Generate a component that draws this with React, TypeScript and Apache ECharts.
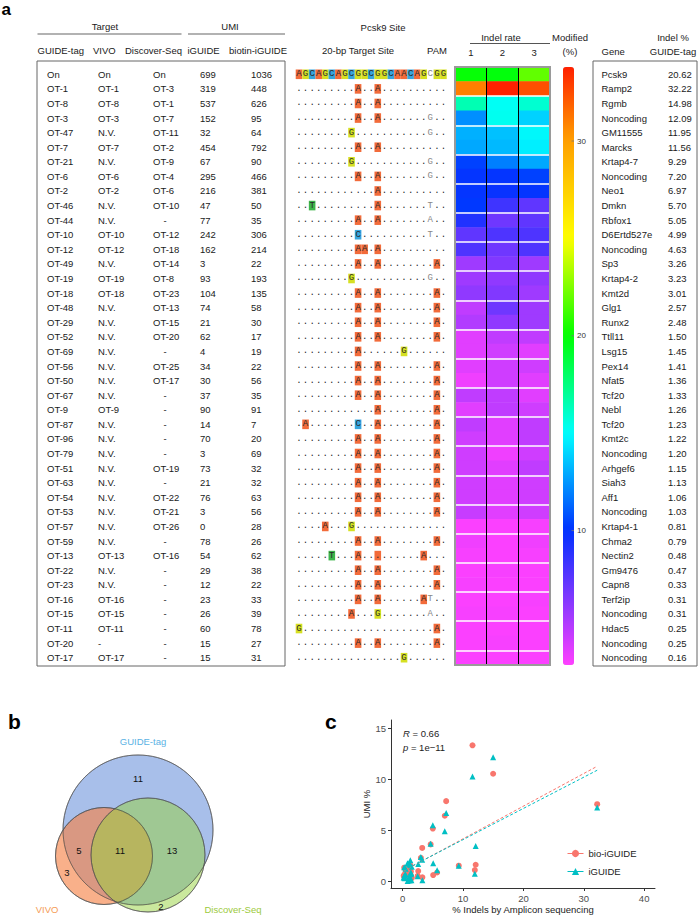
import React, { useEffect, useRef } from 'react';
import * as echarts from 'echarts';

const SANS = '"Liberation Sans", Arial, Helvetica, sans-serif';
const MONO = '"Liberation Mono", "DejaVu Sans Mono", monospace';

// ---------- data ----------
const guideTag = ['On','OT-1','OT-8','OT-3','OT-47','OT-7','OT-21','OT-6','OT-2','OT-46','OT-44','OT-10','OT-12','OT-49','OT-19','OT-18','OT-48','OT-29','OT-52','OT-69','OT-56','OT-50','OT-67','OT-9','OT-87','OT-96','OT-79','OT-51','OT-63','OT-54','OT-53','OT-57','OT-59','OT-13','OT-22','OT-23','OT-16','OT-15','OT-11','OT-20','OT-17'];
const vivo = ['On','OT-1','OT-8','OT-3','N.V.','OT-7','N.V.','OT-6','OT-2','N.V.','N.V.','OT-10','OT-12','N.V.','OT-19','OT-18','N.V.','N.V.','N.V.','N.V.','N.V.','N.V.','N.V.','OT-9','N.V.','N.V.','N.V.','N.V.','N.V.','N.V.','N.V.','N.V.','N.V.','OT-13','N.V.','N.V.','OT-16','OT-15','OT-11','-','OT-17'];
const discoverSeq = ['On','OT-3','OT-1','OT-7','OT-11','OT-2','OT-9','OT-4','OT-6','OT-10','-','OT-12','OT-18','OT-14','OT-8','OT-23','OT-13','OT-15','OT-20','-','OT-25','OT-17','-','-','-','-','-','OT-19','-','OT-22','OT-21','OT-26','-','OT-16','-','-','-','-','-','-','-'];
const iguideUMI = [699,319,537,152,32,454,67,295,216,47,77,242,162,3,93,104,74,21,62,4,34,30,37,90,14,70,3,73,21,76,3,0,78,54,29,12,23,26,60,15,15];
const biotinUMI = [1036,448,626,95,64,792,90,466,381,50,35,306,214,22,193,135,58,30,17,19,22,56,35,91,7,20,69,32,32,63,56,28,26,62,38,22,33,39,78,27,31];
const genes = ['Pcsk9','Ramp2','Rgmb','Noncoding','GM11555','Marcks','Krtap4-7','Noncoding','Neo1','Dmkn','Rbfox1','D6Ertd527e','Noncoding','Sp3','Krtap4-2','Kmt2d','Glg1','Runx2','Ttll11','Lsg15','Pex14','Nfat5','Tcf20','Nebl','Tcf20','Kmt2c','Noncoding','Arhgef6','Siah3','Aff1','Noncoding','Krtap4-1','Chma2','Nectin2','Gm9476','Capn8','Terf2ip','Noncoding','Hdac5','Noncoding','Noncoding'];
const indelGuideTag = [20.62,32.22,14.98,12.09,11.95,11.56,9.29,7.20,6.97,5.70,5.05,4.99,4.63,3.26,3.23,3.01,2.57,2.48,1.50,1.45,1.41,1.36,1.33,1.26,1.23,1.22,1.20,1.15,1.13,1.06,1.03,0.81,0.79,0.48,0.47,0.33,0.31,0.31,0.25,0.25,0.16];
const sequences = [
  'AGCAGCAGCGGCGGCAACAGCGG',
  '.........A..A..........',
  '.........A..A..........',
  '.........A..A.......G..',
  '........G...........G..',
  '.........A..A..........',
  '........G...........G..',
  '.........A..A.......G..',
  '............A..........',
  '..T.........A.......T..',
  '.........A..A.......A..',
  '.........C..........T..',
  '.........AA.A..........',
  '.........A..A........A.',
  '........G...........G..',
  '.........A..A........A.',
  '.........A..A........A.',
  '.........A..A........A.',
  '.........A..A........A.',
  '.........A......G......',
  '.........A..A........A.',
  '.........A..A........A.',
  '.........A..A........A.',
  '............A........A.',
  '.A.......C..A........A.',
  '.........A..A........A.',
  '.........A..A........A.',
  '.........A..A........A.',
  '.........A..A........A.',
  '.........A..A........A.',
  '.........A..A........A.',
  '....A...G..............',
  '.........A..A........A.',
  '.....T...A.._......A...',
  '.........A..A........A.',
  '.........A..A........A.',
  '.........A..A......AT..',
  '........A...G.......A..',
  'G....................A.',
  '.........A..A........A.',
  '................G......',
];
const indelRep1 = [20.0,31.0,16.5,12.3,13.1,12.9,10.4,10.0,10.0,10.2,9.1,7.4,7.9,5.7,5.7,6.1,4.8,5.2,3.9,3.9,3.9,3.5,4.8,3.9,4.8,4.4,4.4,4.4,4.4,4.4,4.6,3.2,3.5,3.3,3.2,3.3,3.2,3.3,3.2,3.2,3.2];
const indelRep2 = [19.8,33.8,15.2,15.3,13.5,13.3,11.9,10.0,9.8,8.3,7.0,7.9,7.0,6.5,6.1,6.5,7.0,6.1,4.8,4.4,4.4,4.4,4.8,4.8,3.9,3.9,3.5,3.9,3.9,3.9,3.9,3.2,3.2,3.2,3.3,3.2,3.2,3.3,3.2,3.3,3.2];
const indelRep3 = [21.9,32.4,15.9,13.9,14.9,14.6,12.9,10.4,10.0,7.4,7.4,7.9,7.9,5.7,6.1,5.7,5.7,5.7,4.8,3.9,4.4,3.9,3.9,4.4,4.8,4.8,4.4,4.8,4.4,4.4,4.4,3.3,3.5,3.3,3.2,3.2,3.3,3.2,3.2,3.2,3.2];
const colorbarTicks = [30, 20, 10];

// scatter (off-targets, same order as table rows 2..41)
const bioUMIpct = [7.54,10.53,1.60,1.08,13.32,1.51,7.84,6.41,0.84,0.59,5.15,3.60,0.37,3.25,2.27,0.98,0.50,0.29,0.32,0.37,0.94,0.59,1.53,0.12,0.34,1.16,0.54,0.54,1.06,0.94,0.47,0.44,1.04,0.64,0.37,0.56,0.66,1.31,0.45,0.52];
const iUMIpct = [7.21,12.14,3.44,0.72,10.26,1.51,6.67,4.88,1.06,1.74,5.47,3.66,0.07,2.10,2.35,1.67,0.47,1.40,0.09,0.77,0.68,0.84,2.03,0.32,1.58,0.07,1.65,0.47,1.72,0.07,0.00,1.76,1.22,0.66,0.27,0.52,0.59,1.36,0.34,0.34];
const fitBio = [[0.16, 1.0], [32.22, 11.26]];
const fitI = [[0.16, 1.05], [32.22, 10.87]];
const xTicks = [0, 10, 20, 30, 40];
const yTicks = [0, 5, 10, 15];

// venn
const vennSets = ['GUIDE-tag', 'VIVO', 'Discover-Seq'];
const vennCounts = ['11', '5', '11', '13', '3', '2'];

// ---------- style helpers ----------
const VMIN = 3.1, VMAX = 33.8;
const HM = { left: 455, top: 67, width: 95, height: 598 };
const N = guideTag.length;
const rowY = (i: number) => HM.top + (HM.height * (i + 0.5)) / N;
const SEQ_X0 = 299, SEQ_STEP = 6.565;
const BOX: Record<string, string> = { A: '#f26b3a', G: '#d6e022', C: '#36a5dd', T: '#3db54a', _: '#f26b3a' };
const RED = '#F8766D', CYAN = '#00BFC4';

const anchors: [number, string][] = [[3.1,'#ff40ff'],[10,'#0030ff'],[15,'#00ffff'],[20,'#00ff00'],[25,'#ffff00'],[30,'#ffa000'],[33.8,'#ff2000']];
function hex(c: string) { return [1,3,5].map(k => parseInt(c.slice(k, k + 2), 16)); }
function colorAt(v: number) {
  for (let k = 0; k < anchors.length - 1; k++) {
    const [a, ca] = anchors[k], [b, cb] = anchors[k + 1];
    if (v <= b + 1e-9) {
      const t = Math.max(0, Math.min(1, (v - a) / (b - a)));
      const A = hex(ca), B = hex(cb);
      const m = A.map((x, j) => Math.round(x + (B[j] - x) * t));
      return 'rgb(' + m.join(',') + ')';
    }
  }
  return anchors[anchors.length - 1][1];
}
const gradientStops = Array.from({ length: 62 }, (_, k) => colorAt(VMIN + ((VMAX - VMIN) * k) / 61));

export default function App() {
  const ref = useRef<HTMLDivElement>(null);
  useEffect(() => {
    const chart = echarts.init(ref.current!, null, { renderer: 'svg' });
    const els: any[] = [];
    const txt = (text: string, x: number, y: number, o: any = {}) => els.push({
      type: 'text', x, y, silent: true, z: o.z ?? 20,
      style: {
        text, fill: o.fill ?? '#1a1a1a', fontSize: o.size ?? 9.5, fontFamily: o.font ?? SANS,
        fontWeight: o.weight ?? 'normal', fontStyle: o.fstyle ?? 'normal',
        textAlign: o.align ?? 'left', align: o.align ?? 'left',
        textVerticalAlign: 'middle', verticalAlign: 'middle', rich: o.rich,
      },
    });
    const line = (x1: number, y1: number, x2: number, y2: number, stroke: string, w: number, z = 20) =>
      els.push({ type: 'line', silent: true, z, shape: { x1, y1, x2, y2 }, style: { stroke, lineWidth: w } });
    const rect = (x: number, y: number, width: number, height: number, style: any, z = 15) =>
      els.push({ type: 'rect', silent: true, z, shape: { x, y, width, height }, style });

    // panel letters
    txt('a', 1.5, 9, { size: 17, weight: 'bold', fill: '#000' });
    txt('b', 8, 721, { size: 21, weight: 'bold', fill: '#000' });
    txt('c', 325, 721, { size: 21, weight: 'bold', fill: '#000' });

    // table headers
    txt('Target', 105, 26, { align: 'center' });
    txt('UMI', 230, 26, { align: 'center' });
    line(37.5, 34, 181.5, 34, '#999', 1.5);
    line(188, 34, 285, 34, '#999', 1.5);
    const headX = [37.5, 93, 125, 187.5, 229];
    ['GUIDE-tag', 'VIVO', 'Discover-Seq', 'iGUIDE', 'biotin-iGUIDE'].forEach((h, k) => txt(h, headX[k], 50));
    rect(37, 61, 248, 605, { fill: 'none', stroke: '#666', lineWidth: 1 });
    const colX = [47, 98, 153, 200, 251];
    for (let r = 0; r < N; r++) {
      const y = rowY(r);
      txt(guideTag[r], colX[0], y);
      txt(vivo[r], colX[1], y);
      if (discoverSeq[r] === '-') txt('-', 165, y, { align: 'center' }); else txt(discoverSeq[r], colX[2], y);
      txt(String(iguideUMI[r]), colX[3], y);
      txt(String(biotinUMI[r]), colX[4], y);
    }

    // sequence headers
    txt('Pcsk9 Site', 383, 27, { align: 'center' });
    txt('20-bp Target Site', 358, 50, { align: 'center' });
    txt('PAM', 437, 50, { align: 'center' });
    txt('Indel rate', 501, 37, { align: 'center' });
    line(470, 43.5, 550, 43.5, '#555', 1);
    sequences.forEach((s, r) => {
      const y = rowY(r);
      for (let i = 0; i < s.length; i++) {
        const ch = s[i];
        const x = SEQ_X0 + SEQ_STEP * i;
        if (ch === '.') txt('.', x, y, { align: 'center', font: MONO, size: 9, fill: '#222' });
        else if (i === 20) txt(ch, x, y, { align: 'center', font: MONO, size: 9, fill: '#888' });
        else {
          rect(x - 3.3, y - 4.8, 6.6, 9.6, { fill: BOX[ch] });
          txt(ch === '_' ? '.' : ch, x, y, { align: 'center', font: MONO, size: 9, fill: '#2a2a2a' });
        }
      }
    });

    // heatmap border
    rect(HM.left, HM.top, HM.width, HM.height, { fill: 'none', stroke: '#9a9a9a', lineWidth: 2 }, 100);

    // colorbar header and ticks
    txt('Modified', 570, 37, { align: 'center' });
    txt('(%)', 570, 51, { align: 'center' });
    colorbarTicks.forEach(v => {
      const y = HM.top + ((VMAX - v) / (VMAX - VMIN)) * HM.height;
      line(571.5, y, 574, y, '#777', 0.8, 100);
      txt(String(v), 577, y, { size: 8, fill: '#333' });
    });

    // gene table
    txt('Gene', 601.5, 51.5);
    txt('Indel %', 673, 37, { align: 'center' });
    txt('GUIDE-tag', 673, 51, { align: 'center' });
    rect(593, 61, 104, 605, { fill: 'none', stroke: '#666', lineWidth: 1 });
    for (let r = 0; r < N; r++) {
      const y = rowY(r);
      txt(genes[r], 601.5, y);
      txt(indelGuideTag[r].toFixed(2), 668, y);
    }

    // venn
    const vennCircles = [
      { cx: 138, cy: 830, r: 75, fill: '#4a7ad4', op: 0.48 },
      { cx: 104, cy: 856, r: 48.5, fill: '#f58246', op: 0.63 },
      { cx: 148, cy: 855, r: 57, fill: '#96d23c', op: 0.5 },
    ];
    vennCircles.forEach(c => els.push({
      type: 'circle', silent: true, z: 10, shape: { cx: c.cx, cy: c.cy, r: c.r },
      style: { fill: c.fill, opacity: c.op, stroke: '#333', lineWidth: 0.8 },
    }));
    vennCircles.forEach(c => els.push({
      type: 'circle', silent: true, z: 11, shape: { cx: c.cx, cy: c.cy, r: c.r },
      style: { fill: 'none', stroke: '#555', lineWidth: 0.7 },
    }));
    txt(vennSets[0], 143, 741, { align: 'center', fill: '#5ab2e4' });
    txt(vennSets[1], 47, 909, { align: 'center', fill: '#f59c55' });
    txt(vennSets[2], 233, 909, { align: 'center', fill: '#9cca3c' });
    const vennPos = [[138, 778], [79, 850], [120, 850], [172, 850], [67, 872], [161, 906]];
    vennCounts.forEach((t, k) => txt(t, vennPos[k][0], vennPos[k][1], { align: 'center', fill: '#111' }));

    // scatter annotations
    txt('{i|R} = 0.66', 403, 733, { fill: '#222', rich: { i: { fontStyle: 'italic', fontSize: 9.5, fontFamily: SANS, fill: '#222' } } });
    txt('{i|p} = 1e\u221211', 403, 747, { fill: '#222', rich: { i: { fontStyle: 'italic', fontSize: 9.5, fontFamily: SANS, fill: '#222' } } });

    const heatData: number[][] = [];
    const reps = [indelRep1, indelRep2, indelRep3];
    for (let r = 0; r < N; r++) for (let c = 0; c < 3; c++) heatData.push([c, r, reps[c][r]]);

    const xOff = indelGuideTag.slice(1);
    const axisText = { color: '#4d4d4d', fontSize: 9.5, fontFamily: SANS };

    chart.setOption({
      animation: false,
      backgroundColor: '#fff',
      textStyle: { fontFamily: SANS },
      grid: [
        { left: HM.left, top: HM.top, width: HM.width, height: HM.height, containLabel: false },
        { left: 391, top: 720, width: 264, height: 169, containLabel: false },
      ],
      xAxis: [
        {
          type: 'category', gridIndex: 0, data: ['1', '2', '3'], position: 'top', z: 6,
          axisLine: { show: false }, axisTick: { show: false },
          axisLabel: { fontSize: 9.5, color: '#1a1a1a', margin: 10, fontFamily: SANS },
          splitLine: { show: true, showMinLine: false, showMaxLine: false, lineStyle: { color: '#000', width: 1 } },
        },
        {
          type: 'value', gridIndex: 1, min: -1.94, max: 41.8,
          axisLine: { show: true, onZero: false, lineStyle: { color: '#333', width: 1 } },
          axisTick: { show: true, length: 3, lineStyle: { color: '#333' }, customValues: xTicks },
          axisLabel: { ...axisText, margin: 5, customValues: xTicks },
          splitLine: { show: false },
          name: '% Indels by Amplicon sequencing', nameLocation: 'middle', nameGap: 16,
          nameTextStyle: { fontSize: 9.5, color: '#222', fontFamily: SANS },
        },
      ],
      yAxis: [
        {
          type: 'category', gridIndex: 0, data: guideTag, inverse: true, z: 5,
          axisLine: { show: false }, axisTick: { show: false }, axisLabel: { show: false },
          splitLine: { show: true, showMinLine: false, showMaxLine: false, lineStyle: { color: '#fff', width: 1.5 } },
        },
        {
          type: 'value', gridIndex: 1, min: -0.68, max: 15.8,
          axisLine: { show: true, onZero: false, lineStyle: { color: '#333', width: 1 } },
          axisTick: { show: true, length: 3, lineStyle: { color: '#333' }, customValues: yTicks },
          axisLabel: { ...axisText, margin: 5, customValues: yTicks },
          splitLine: { show: false },
          name: 'UMI %', nameLocation: 'middle', nameGap: 16, nameRotate: 90,
          nameTextStyle: { fontSize: 9.5, color: '#222', fontFamily: SANS },
        },
      ],
      visualMap: {
        type: 'continuous', min: VMIN, max: VMAX, seriesIndex: 0, dimension: 2,
        orient: 'vertical', left: 558, top: 62, padding: 5, itemWidth: 11, itemHeight: HM.height,
        calculable: false, hoverLink: false, realtime: false,
        inRange: { color: gradientStops },
      },
      legend: {
        data: ['bio-iGUIDE', 'iGUIDE'], orient: 'vertical', left: 567, top: 848.5, padding: 0,
        itemWidth: 16, itemHeight: 9, itemGap: 8, selectedMode: false,
        textStyle: { fontSize: 9.5, color: '#222', fontFamily: SANS },
        lineStyle: { type: 'solid', width: 1 },
      },
      graphic: { elements: els },
      series: [
        {
          type: 'heatmap', xAxisIndex: 0, yAxisIndex: 0, data: heatData, silent: true,
          itemStyle: { borderWidth: 0 }, emphasis: { disabled: true },
        },
        {
          type: 'line', name: 'bio-iGUIDE', xAxisIndex: 1, yAxisIndex: 1, data: fitBio, silent: true,
          symbol: 'circle', showSymbol: false, itemStyle: { color: RED },
          lineStyle: { color: RED, width: 1, type: [3, 2] },
        },
        {
          type: 'line', name: 'iGUIDE', xAxisIndex: 1, yAxisIndex: 1, data: fitI, silent: true,
          symbol: 'triangle', showSymbol: false, itemStyle: { color: CYAN },
          lineStyle: { color: CYAN, width: 1, type: [3, 2] },
        },
        {
          type: 'scatter', name: 'bio-iGUIDE', xAxisIndex: 1, yAxisIndex: 1, silent: true,
          data: xOff.map((x, k) => [x, bioUMIpct[k]]), symbol: 'circle', symbolSize: 6,
          itemStyle: { color: RED, opacity: 1 },
        },
        {
          type: 'scatter', name: 'iGUIDE', xAxisIndex: 1, yAxisIndex: 1, silent: true,
          data: xOff.map((x, k) => [x, iUMIpct[k]]), symbol: 'triangle', symbolSize: 6,
          itemStyle: { color: CYAN, opacity: 1 },
        },
      ],
    });
    return () => chart.dispose();
  }, []);
  return <div ref={ref} style={{ position: 'fixed', left: 0, top: 0, width: 700, height: 915, background: '#fff' }} />;
}
